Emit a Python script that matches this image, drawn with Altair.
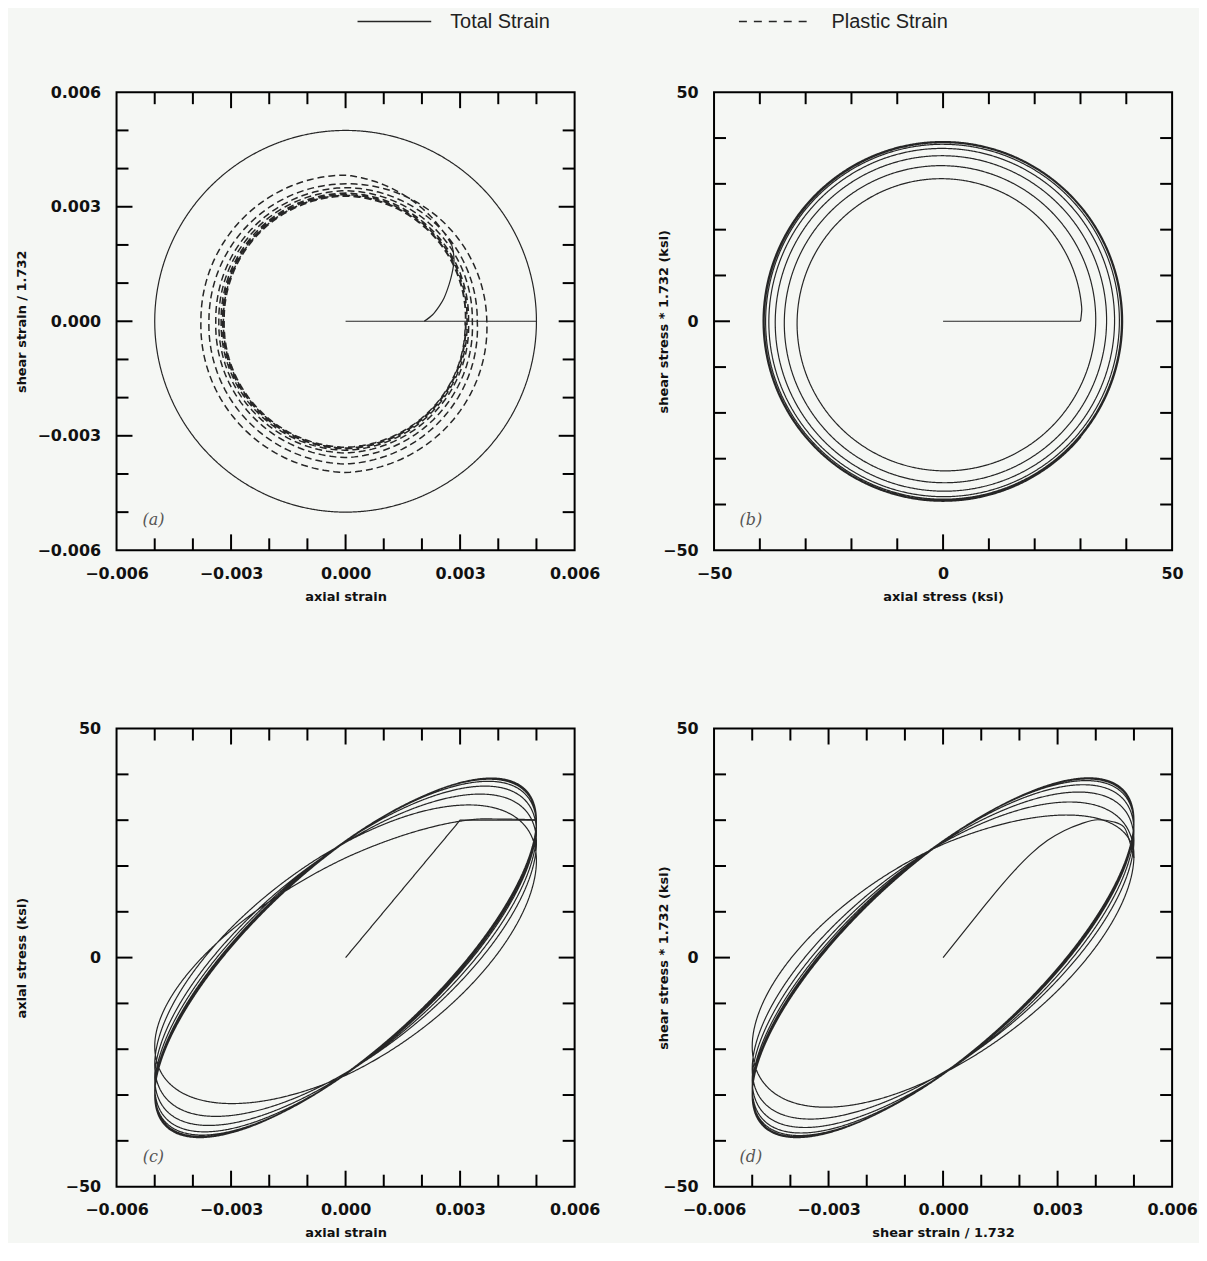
import numpy as np
import pandas as pd
import altair as alt

# ---------------- values ----------------
STRAIN_AMPLITUDE = 0.005          # radius of the total-strain circle
N_CYCLES = 8                      # circular cycles drawn

# (a) total strain: radial path then circle; plastic strain transition (solid) and circles (dashed)
TOTAL_RADIAL_X = [0.0, 0.005]
TOTAL_RADIAL_Y = [0.0, 0.0]
PLASTIC_TRANSITION_X = [0.00206, 0.00228, 0.00245, 0.00258, 0.00271, 0.00279, 0.00284, 0.00282, 0.00278]
PLASTIC_TRANSITION_Y = [0.0, 0.00017, 0.00039, 0.00061, 0.00096, 0.00126, 0.00157, 0.00183, 0.00200]
# plastic-strain radius at each quarter turn (90, 180, 270, 360 deg, ...)
PLASTIC_RADIUS = [0.00383, 0.00379, 0.00396, 0.00370,
                  0.00360, 0.00358, 0.00374, 0.00345,
                  0.00350, 0.00340, 0.00357, 0.00332,
                  0.00342, 0.00332, 0.00345, 0.00322,
                  0.00336, 0.00326, 0.00338, 0.00318,
                  0.00332, 0.00322, 0.00334, 0.00315,
                  0.00330, 0.00320, 0.00332, 0.00314,
                  0.00328, 0.00318, 0.00330, 0.00313]

# (b) stress: radial path, then stress radius (ksi) at each quarter turn of the strain path
STRESS_RADIAL_X = [0.0, 30.0]
STRESS_RADIAL_Y = [0.0, 0.0]
STRESS_RADIUS = [30.0, 30.8, 31.4, 32.2, 33.0, 33.6, 34.3, 35.0, 35.5, 35.9, 36.4,
                 36.9, 37.3, 37.6, 37.9, 38.2, 38.4, 38.6, 38.7, 38.8, 38.9, 39.0,
                 39.0, 39.1, 39.1, 39.1, 39.2, 39.2, 39.2, 39.2, 39.3, 39.3, 39.3]
# lag (deg) of the stress direction behind the strain direction, read from (c)/(d)
LAG_KNOT_DEG = [0, 45, 90, 180, 270, 360, 540, 720, 1080, 1440, 2160, 2880]
LAG_DEG = [0, 40, 45, 52, 53, 50, 47, 45, 43, 41.5, 40.5, 40]

# (c) initial axial loading, (d) initial shear response
C_INITIAL_X = [0.0, 0.003, 0.005]
C_INITIAL_Y = [0.0, 30.0, 30.0]
D_INITIAL_X = [0.0, 0.00100, 0.00144, 0.00187, 0.00231, 0.00274, 0.00317,
               0.00361, 0.00405, 0.00448, 0.00474]
D_INITIAL_Y = [0.0, 10.4, 14.9, 19.0, 22.7, 25.6, 27.7, 29.2, 30.1, 29.6, 28.5]

# legend entries
LEGEND_LABELS = ["Total Strain", "Plastic Strain"]

# axes
STRAIN_DOMAIN = [-0.006, 0.006]
STRESS_DOMAIN = [-50, 50]
STRAIN_LABELS = [-0.006, -0.003, 0.0, 0.003, 0.006]
STRAIN_MINOR = [-0.005, -0.004, -0.002, -0.001, 0.001, 0.002, 0.004, 0.005]
STRAIN_MAJOR = [-0.003, 0.0, 0.003]
STRESS_LABELS = [-50, 0, 50]
STRESS_MINOR = [-40, -30, -20, -10, 10, 20, 30, 40]
STRESS_MAJOR = [0]

INK = "#262626"
BG = "#f5f7f4"
W, H = 460, 460

# ---------------- curves built from the read values ----------------
deg = np.arange(0.0, 360.0 * N_CYCLES + 1, 2.0)
quarter = np.arange(len(STRESS_RADIUS)) * 90.0
S = np.interp(deg, quarter, STRESS_RADIUS)
lag = np.interp(deg, LAG_KNOT_DEG, LAG_DEG)
th = np.radians(deg)
psi = np.radians(deg - lag)
eps_a = STRAIN_AMPLITUDE * np.cos(th)
eps_s = STRAIN_AMPLITUDE * np.sin(th)
sig_a = S * np.cos(psi)
sig_s = S * np.sin(psi)


def seg(x, y, name, style="solid", smooth="none"):
    return pd.DataFrame({"x": np.asarray(x, float), "y": np.asarray(y, float),
                         "seg": name, "style": style, "smooth": smooth,
                         "ord": np.arange(len(x))})


# panel (a)
one = deg <= 360
p0x, p0y = PLASTIC_TRANSITION_X[-1], PLASTIC_TRANSITION_Y[-1]
a0 = np.degrees(np.arctan2(p0y, p0x))
r0 = np.hypot(p0x, p0y)
pk_ang = np.concatenate([[a0], 90.0 * np.arange(1, len(PLASTIC_RADIUS) + 1)])
pk_rad = np.concatenate([[r0], PLASTIC_RADIUS])
pang = np.arange(a0, pk_ang[-1] + 0.1, 2.0)
prad = np.interp(pang, pk_ang, pk_rad)
df_a = pd.concat([
    seg(TOTAL_RADIAL_X, TOTAL_RADIAL_Y, "total_radial"),
    seg(eps_a[one], eps_s[one], "total_circle"),
    seg(PLASTIC_TRANSITION_X, PLASTIC_TRANSITION_Y, "plastic_transition", smooth="cardinal"),
    seg(prad * np.cos(np.radians(pang)), prad * np.sin(np.radians(pang)), "plastic_cycles", "dashed"),
])

# panel (b)
df_b = pd.concat([
    seg(STRESS_RADIAL_X, STRESS_RADIAL_Y, "radial"),
    seg(sig_a, sig_s, "cycles"),
])

# panel (c)
df_c = pd.concat([
    seg(C_INITIAL_X, C_INITIAL_Y, "initial"),
    seg(eps_a, sig_a, "cycles"),
])

# panel (d)
after = deg >= 90
df_d = pd.concat([
    seg(D_INITIAL_X + [eps_s[after][0]], D_INITIAL_Y + [sig_s[after][0]], "initial",
        smooth="monotone"),
    seg(eps_s[after], sig_s[after], "cycles"),
])


def legend_layers(label, dashed, x0, x1, xt, y):
    d = pd.DataFrame({"t": [label]})
    rule = alt.Chart(d).mark_rule(color=INK, strokeWidth=1.5,
                                  strokeDash=[8, 7] if dashed else [1, 0]).encode(
        x=alt.value(x0), x2=alt.value(x1), y=alt.value(y))
    text = alt.Chart(d).mark_text(align="left", baseline="middle", fontSize=20,
                                  font="Liberation Sans", color="#222222").encode(
        x=alt.value(xt), y=alt.value(y), text="t:N")
    return [rule, text]


def panel(df, kind_x, kind_y, xtitle, ytitle, tag, y_extent, y_tpad, extra=()):
    def spec(kind):
        if kind == "strain":
            return STRAIN_DOMAIN, STRAIN_LABELS, ".3f", STRAIN_MINOR, STRAIN_MAJOR
        return STRESS_DOMAIN, STRESS_LABELS, "d", STRESS_MINOR, STRESS_MAJOR

    xd, xl, xf, xmin, xmaj = spec(kind_x)
    yd, yl, yf, ymin, ymaj = spec(kind_y)
    xs = alt.Scale(domain=xd, nice=False, zero=False)
    ys = alt.Scale(domain=yd, nice=False, zero=False)
    xax = alt.Axis(values=xl, format=xf, title=xtitle, ticks=False, tickSize=0, domain=False,
                   grid=False, labelPadding=15, titlePadding=9, labelFlush=False,
                   labelOverlap=False)
    yax = alt.Axis(values=yl, format=yf, title=ytitle, ticks=False, tickSize=0, domain=False,
                   grid=False, labelPadding=16, titlePadding=y_tpad, labelFlush=False,
                   labelOverlap=False, minExtent=y_extent, maxExtent=y_extent)
    X = alt.X("x:Q", scale=xs, axis=xax)
    Y = alt.Y("y:Q", scale=ys, axis=yax)
    dash = alt.StrokeDash("style:N", scale=alt.Scale(
        domain=["solid", "dashed"], range=[[1, 0], [7, 4]]), legend=None)
    width = alt.StrokeWidth("style:N", scale=alt.Scale(
        domain=["solid", "dashed"], range=[1.2, 1.5]), legend=None)

    sharp = alt.Chart(df[df["smooth"] == "none"]).mark_line(color=INK).encode(
        x=X, y=Y, detail="seg:N", order="ord:Q", strokeDash=dash, strokeWidth=width)
    layers = [sharp]
    for how in ("cardinal", "monotone"):
        soft_df = df[df["smooth"] == how]
        if len(soft_df):
            layers.append(alt.Chart(soft_df).mark_line(
                color=INK, strokeWidth=1.2, interpolate=how).encode(
                x=X, y=Y, detail="seg:N", order="ord:Q"))

    def xt(values, length):
        base = alt.Chart(pd.DataFrame({"x": values})).mark_rule(color="black", strokeWidth=2)
        return [base.encode(x=X, y=alt.value(H), y2=alt.value(H - length)),
                base.encode(x=X, y=alt.value(0), y2=alt.value(length))]

    def yt(values, length):
        base = alt.Chart(pd.DataFrame({"y": values})).mark_rule(color="black", strokeWidth=2)
        return [base.encode(y=Y, x=alt.value(0), x2=alt.value(length)),
                base.encode(y=Y, x=alt.value(W), x2=alt.value(W - length))]

    layers += xt(xmin, 12) + xt(xmaj, 16) + yt(ymin, 12) + yt(ymaj, 16)
    label = alt.Chart(pd.DataFrame({"t": [tag]})).mark_text(
        font="DejaVu Serif", fontStyle="italic", fontSize=16, color="#555555").encode(
        text="t:N", x=alt.value(37), y=alt.value(H - 30))
    layers.append(label)
    layers += list(extra)
    return alt.layer(*layers).properties(
        width=W, height=H, view=alt.ViewBackground(stroke="black", strokeWidth=2))


LEG_Y = -71
pa = panel(df_a, "strain", "strain", "axial strain", "shear strain / 1.732", "(a)", 83, 5,
           extra=legend_layers(LEGEND_LABELS[0], False, 242, 316, 335, LEG_Y))
pb = panel(df_b, "stress", "stress", "axial stress (ksi)", "shear stress * 1.732 (ksi)", "(b)", 40, 4,
           extra=legend_layers(LEGEND_LABELS[1], True, 25, 99, 118, LEG_Y))
pc = panel(df_c, "strain", "stress", "axial strain", "axial stress (ksi)", "(c)", 83, 5)
pd_ = panel(df_d, "strain", "stress", "shear strain / 1.732", "shear stress * 1.732 (ksi)", "(d)", 40, 4)

chart = alt.vconcat(
    alt.hconcat(pa, pb, spacing=55),
    alt.hconcat(pc, pd_, spacing=55),
    spacing=116,
).properties(
    padding={"left": 7, "top": 0, "right": 0, "bottom": 0},
    background=BG,
).configure_axis(
    labelFont="DejaVu Sans", labelFontWeight="bold", labelFontSize=16, labelColor="#111",
    titleFont="DejaVu Sans", titleFontWeight="bold", titleFontSize=13, titleColor="#111",
).configure_view(stroke="black", strokeWidth=2)

chart.save("out.html", embed_options={"renderer": "svg", "actions": False})
